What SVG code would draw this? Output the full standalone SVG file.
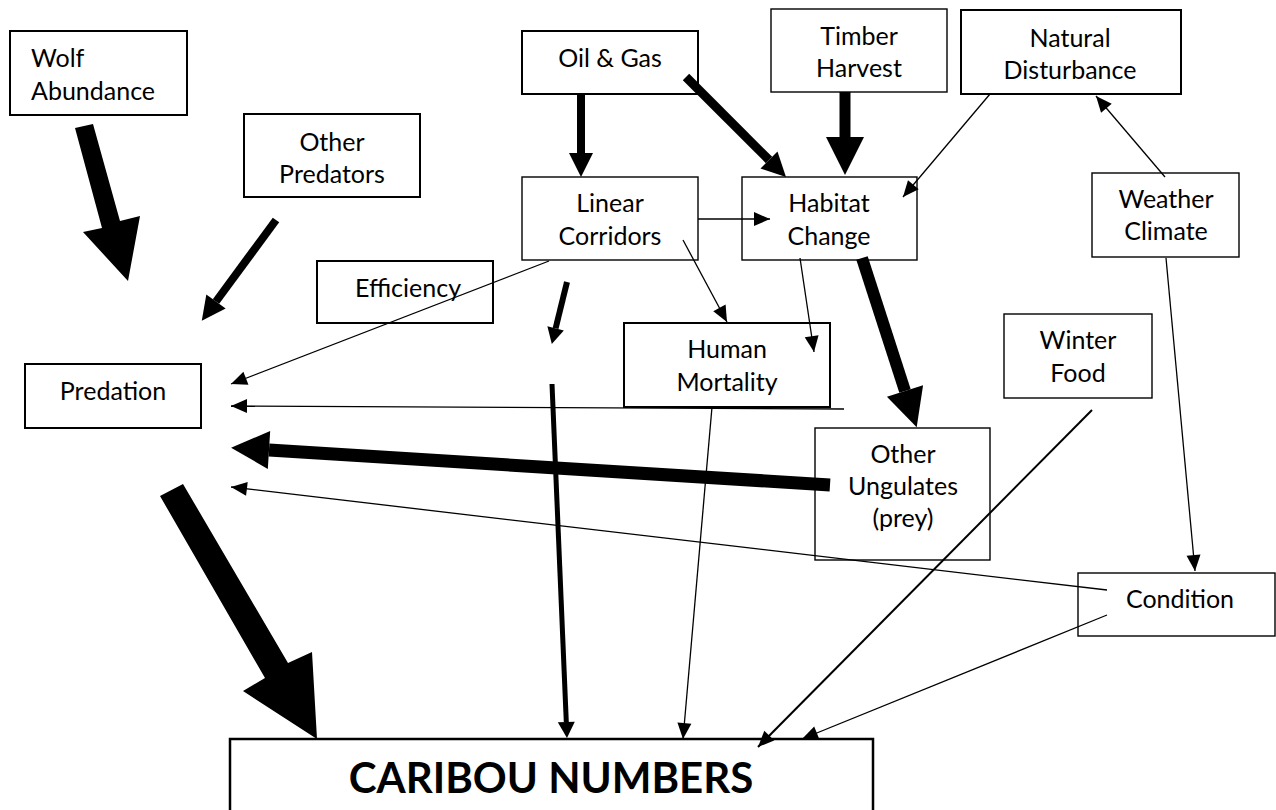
<svg xmlns="http://www.w3.org/2000/svg" width="1276" height="810" viewBox="0 0 1276 810">
<style>
  .box{fill:#fff;stroke:#000;stroke-width:1.4}
  .boxb{fill:#fff;stroke:#000;stroke-width:2}
  .t{font-family:Lato,"Liberation Sans",sans-serif;font-size:25px;fill:#000;text-anchor:middle}
  .tl{text-anchor:start}
  .big{font-family:Lato,"Liberation Sans",sans-serif;font-size:42px;font-weight:bold;fill:#000;text-anchor:middle}
  .thin{stroke:#000;stroke-width:1.3;fill:none;marker-end:url(#aThin)}
  .thk{stroke:#000;fill:none;stroke-linecap:butt}
</style>
<defs>
  <marker id="aThin" markerUnits="userSpaceOnUse" markerWidth="16" markerHeight="14" refX="16" refY="7" orient="auto" overflow="visible">
    <path d="M0,0 L16,7 L0,14 Z" fill="#000"/>
  </marker>
  <marker id="aSmall" markerUnits="userSpaceOnUse" markerWidth="16" markerHeight="17" refX="0" refY="8.5" orient="auto" overflow="visible">
    <path d="M0,0 L16,8.5 L0,17 Z" fill="#000"/>
  </marker>
  <marker id="aMed" markerUnits="userSpaceOnUse" markerWidth="24" markerHeight="24" refX="0" refY="12" orient="auto" overflow="visible">
    <path d="M0,0 L24,12 L0,24 Z" fill="#000"/>
  </marker>
  <marker id="aBig" markerUnits="userSpaceOnUse" markerWidth="38" markerHeight="38" refX="0" refY="19" orient="auto" overflow="visible">
    <path d="M0,0 L38,19 L0,38 Z" fill="#000"/>
  </marker>
</defs>
<rect width="1276" height="810" fill="#fff"/>

<g id="wolf"><rect class="boxb" x="10" y="31" width="177" height="84"/>
  <text class="t tl" x="31" y="67">Wolf</text><text class="t tl" x="31" y="100">Abundance</text></g>
<g id="other-predators"><rect class="boxb" x="244" y="114" width="176" height="83"/>
  <text class="t" x="332" y="151">Other</text><text class="t" x="332" y="183">Predators</text></g>
<g id="efficiency"><rect class="boxb" x="317" y="261" width="176" height="62"/>
  <text class="t tl" x="355" y="297">Efficiency</text></g>
<g id="predation"><rect class="boxb" x="25" y="364" width="176" height="64"/>
  <text class="t" x="113" y="400">Predation</text></g>
<g id="oil-gas"><rect class="boxb" x="522" y="31" width="176" height="63"/>
  <text class="t" x="610" y="67">Oil &amp; Gas</text></g>
<g id="linear-corridors"><rect class="box" x="522" y="177" width="176" height="83"/>
  <text class="t" x="610" y="212">Linear</text><text class="t" x="610" y="245">Corridors</text></g>
<g id="habitat-change"><rect class="box" x="742" y="177" width="175" height="83"/>
  <text class="t" x="829" y="212">Habitat</text><text class="t" x="829" y="245">Change</text></g>
<g id="timber-harvest"><rect class="box" x="771" y="9" width="176" height="83"/>
  <text class="t" x="859" y="45">Timber</text><text class="t" x="859" y="77">Harvest</text></g>
<g id="natural-disturbance"><rect class="boxb" x="961" y="10" width="220" height="84"/>
  <text class="t" x="1070" y="47">Natural</text><text class="t" x="1070" y="79">Disturbance</text></g>
<g id="weather-climate"><rect class="box" x="1092" y="173" width="147" height="84"/>
  <text class="t" x="1166" y="208">Weather</text><text class="t" x="1166" y="240">Climate</text></g>
<g id="human-mortality"><rect class="boxb" x="624" y="323" width="206" height="84"/>
  <text class="t" x="727" y="358">Human</text><text class="t" x="727" y="391">Mortality</text></g>
<g id="winter-food"><rect class="box" x="1004" y="314" width="148" height="84"/>
  <text class="t" x="1078" y="349">Winter</text><text class="t" x="1078" y="382">Food</text></g>
<g id="other-ungulates"><rect class="box" x="815" y="428" width="175" height="132"/>
  <text class="t" x="903" y="463">Other</text><text class="t" x="903" y="495">Ungulates</text><text class="t" x="903" y="527">(prey)</text></g>
<g id="condition"><rect class="box" x="1078" y="573" width="197" height="63"/>
  <text class="t" x="1180" y="608">Condition</text></g>
<g id="caribou-numbers"><rect x="230" y="739" width="643" height="100" fill="#fff" stroke="#000" stroke-width="2.5"/>
  <text class="big" x="551" y="793">CARIBOU NUMBERS</text></g>

<g id="connectors">
  <polygon points="75,128 93,124 120,221 140,216 128,281 83,232 102,228" fill="#000"/>
  <polygon points="160,496 183,484 288,663 312,652 317,739 243,691 265,678" fill="#000"/>
  <line class="thk" x1="276" y1="220" x2="216" y2="301.5" stroke-width="8" marker-end="url(#aMed)"/>
  <line class="thk" x1="581" y1="94" x2="581" y2="153" stroke-width="8" marker-end="url(#aMed)"/>
  <line class="thk" x1="686" y1="77" x2="769" y2="160" stroke-width="9" marker-end="url(#aMed)"/>
  <line class="thk" x1="845" y1="92" x2="845" y2="137" stroke-width="11" marker-end="url(#aBig)"/>
  <line class="thk" x1="862" y1="258" x2="905" y2="391" stroke-width="12" marker-end="url(#aBig)"/>
  <line class="thk" x1="830" y1="485" x2="269" y2="450" stroke-width="13" marker-end="url(#aBig)"/>
  <line class="thk" x1="567" y1="282" x2="555.6" y2="328.4" stroke-width="6" marker-end="url(#aSmall)"/>
  <line class="thk" x1="552" y1="384" x2="566.3" y2="722" stroke-width="5" marker-end="url(#aSmall)"/>
  <line class="thin" x1="990" y1="94" x2="903" y2="197"/>
  <line class="thin" x1="1165" y1="177" x2="1096" y2="96"/>
  <line class="thin" x1="1166" y1="258" x2="1195" y2="571"/>
  <line class="thin" x1="698" y1="219" x2="770" y2="219"/>
  <line class="thin" x1="683" y1="240" x2="727" y2="322"/>
  <line class="thin" x1="800" y1="258" x2="814" y2="352"/>
  <line class="thin" x1="549" y1="261" x2="231" y2="384"/>
  <line class="thin" x1="844" y1="409" x2="231" y2="406"/>
  <line class="thin" x1="1107" y1="590" x2="231" y2="487"/>
  <line class="thin" x1="712" y1="407" x2="683" y2="739"/>
  <line class="thin" x1="1092" y1="410" x2="758" y2="747" style="stroke-width:2"/>
  <line class="thin" x1="1107" y1="615" x2="802" y2="739"/>
</g>
</svg>
